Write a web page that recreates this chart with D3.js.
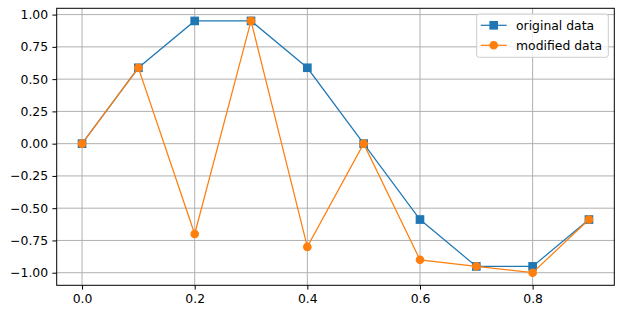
<!DOCTYPE html>
<html>
<head>
<meta charset="utf-8">
<script src="https://cdn.jsdelivr.net/npm/d3@7"></script>
<style>
  body { margin: 0; background: #fff; }
  svg { display: block; font-family: "DejaVu Sans", sans-serif; }
</style>
</head>
<body>
<div id="chart"></div>
<script>
// data
const xs = [0.0, 0.1, 0.2, 0.3, 0.4, 0.5, 0.6, 0.7, 0.8, 0.9];
const original = [0.0, 0.588, 0.951, 0.951, 0.588, 0.0, -0.588, -0.951, -0.951, -0.588];
const modified = [0.0, 0.588, -0.7, 0.951, -0.8, 0.0, -0.9, -0.951, -1.0, -0.588];
const xTicks = [0.0, 0.2, 0.4, 0.6, 0.8];
const yTicks = [-1.0, -0.75, -0.5, -0.25, 0.0, 0.25, 0.5, 0.75, 1.0];
const seriesNames = ["original data", "modified data"];

const W = 623, H = 316;
const margin = {top: 8.3, right: 623 - 614.3, bottom: 316 - 285.3, left: 56.7};
const width = W - margin.left - margin.right,
      height = H - margin.top - margin.bottom;
const fontSize = 12.4, lw = 1.24, ms = 7.4;

const svg = d3.select("#chart").append("svg")
    .attr("width", W).attr("height", H);
const g = svg.append("g")
    .attr("transform", `translate(${margin.left},${margin.top})`);

const x = d3.scaleLinear().domain([-0.045, 0.945]).range([0, width]);
const y = d3.scaleLinear().domain([-1.0975, 1.0488]).range([height, 0]);

// grid
g.append("g").selectAll("line").data(xTicks).join("line")
    .attr("x1", d => x(d)).attr("x2", d => x(d))
    .attr("y1", 0).attr("y2", height)
    .attr("stroke", "#b0b0b0").attr("stroke-width", 1);
g.append("g").selectAll("line").data(yTicks).join("line")
    .attr("x1", 0).attr("x2", width)
    .attr("y1", d => y(d)).attr("y2", d => y(d))
    .attr("stroke", "#b0b0b0").attr("stroke-width", 1);

// axes
const xAxis = g.append("g")
    .attr("transform", `translate(0,${height})`)
    .call(d3.axisBottom(x).tickValues(xTicks).tickFormat(d3.format(".1f"))
        .tickSizeInner(4.3).tickSizeOuter(0).tickPadding(4.3));
const yAxis = g.append("g")
    .call(d3.axisLeft(y).tickValues(yTicks).tickFormat(d3.format(".2f"))
        .tickSizeInner(4.3).tickSizeOuter(0).tickPadding(4.3));
[xAxis, yAxis].forEach(a => {
  a.select(".domain").remove();
  a.selectAll("text").attr("font-size", fontSize).attr("fill", "#000")
    .attr("font-family", "DejaVu Sans, sans-serif");
  a.selectAll("line").attr("stroke", "#000").attr("stroke-width", 1);
});

// lines
const line = d3.line().x((d, i) => x(xs[i])).y(d => y(d));
const colors = ["#1f77b4", "#ff7f0e"];

g.append("path").datum(original)
    .attr("fill", "none").attr("stroke", colors[0]).attr("stroke-width", lw)
    .attr("d", line);
g.append("g").selectAll("rect").data(original).join("rect")
    .attr("x", (d, i) => x(xs[i]) - ms / 2).attr("y", d => y(d) - ms / 2)
    .attr("width", ms).attr("height", ms)
    .attr("fill", colors[0]).attr("stroke", colors[0]).attr("stroke-width", lw);

g.append("path").datum(modified)
    .attr("fill", "none").attr("stroke", colors[1]).attr("stroke-width", lw)
    .attr("d", line);
g.append("g").selectAll("circle").data(modified).join("circle")
    .attr("cx", (d, i) => x(xs[i])).attr("cy", d => y(d))
    .attr("r", ms / 2).attr("fill", colors[1])
    .attr("stroke", colors[1]).attr("stroke-width", lw);

// frame
g.append("rect").attr("width", width).attr("height", height)
    .attr("fill", "none").attr("stroke", "#000").attr("stroke-width", 1);

// legend
const leg = svg.append("g").attr("transform", "translate(476.7,14)");
leg.append("rect").attr("width", 131.6).attr("height", 43.3)
    .attr("rx", 2.5).attr("fill", "#fff").attr("fill-opacity", 0.8)
    .attr("stroke", "#cccccc").attr("stroke-width", 1);
seriesNames.forEach((name, i) => {
  const cy = 11.3 + i * 20;
  const row = leg.append("g");
  row.append("line").attr("x1", 4).attr("x2", 30).attr("y1", cy).attr("y2", cy)
      .attr("stroke", colors[i]).attr("stroke-width", lw);
  if (i === 0) {
    row.append("rect").attr("x", 17 - ms / 2).attr("y", cy - ms / 2)
        .attr("width", ms).attr("height", ms).attr("fill", colors[i])
        .attr("stroke", colors[i]).attr("stroke-width", lw);
  } else {
    row.append("circle").attr("cx", 17).attr("cy", cy).attr("r", ms / 2)
        .attr("fill", colors[i]).attr("stroke", colors[i]).attr("stroke-width", lw);
  }
  row.append("text").attr("x", 39.3).attr("y", cy).attr("dy", "0.35em")
      .attr("font-size", fontSize).attr("fill", "#000").text(name);
});
</script>
</body>
</html>
